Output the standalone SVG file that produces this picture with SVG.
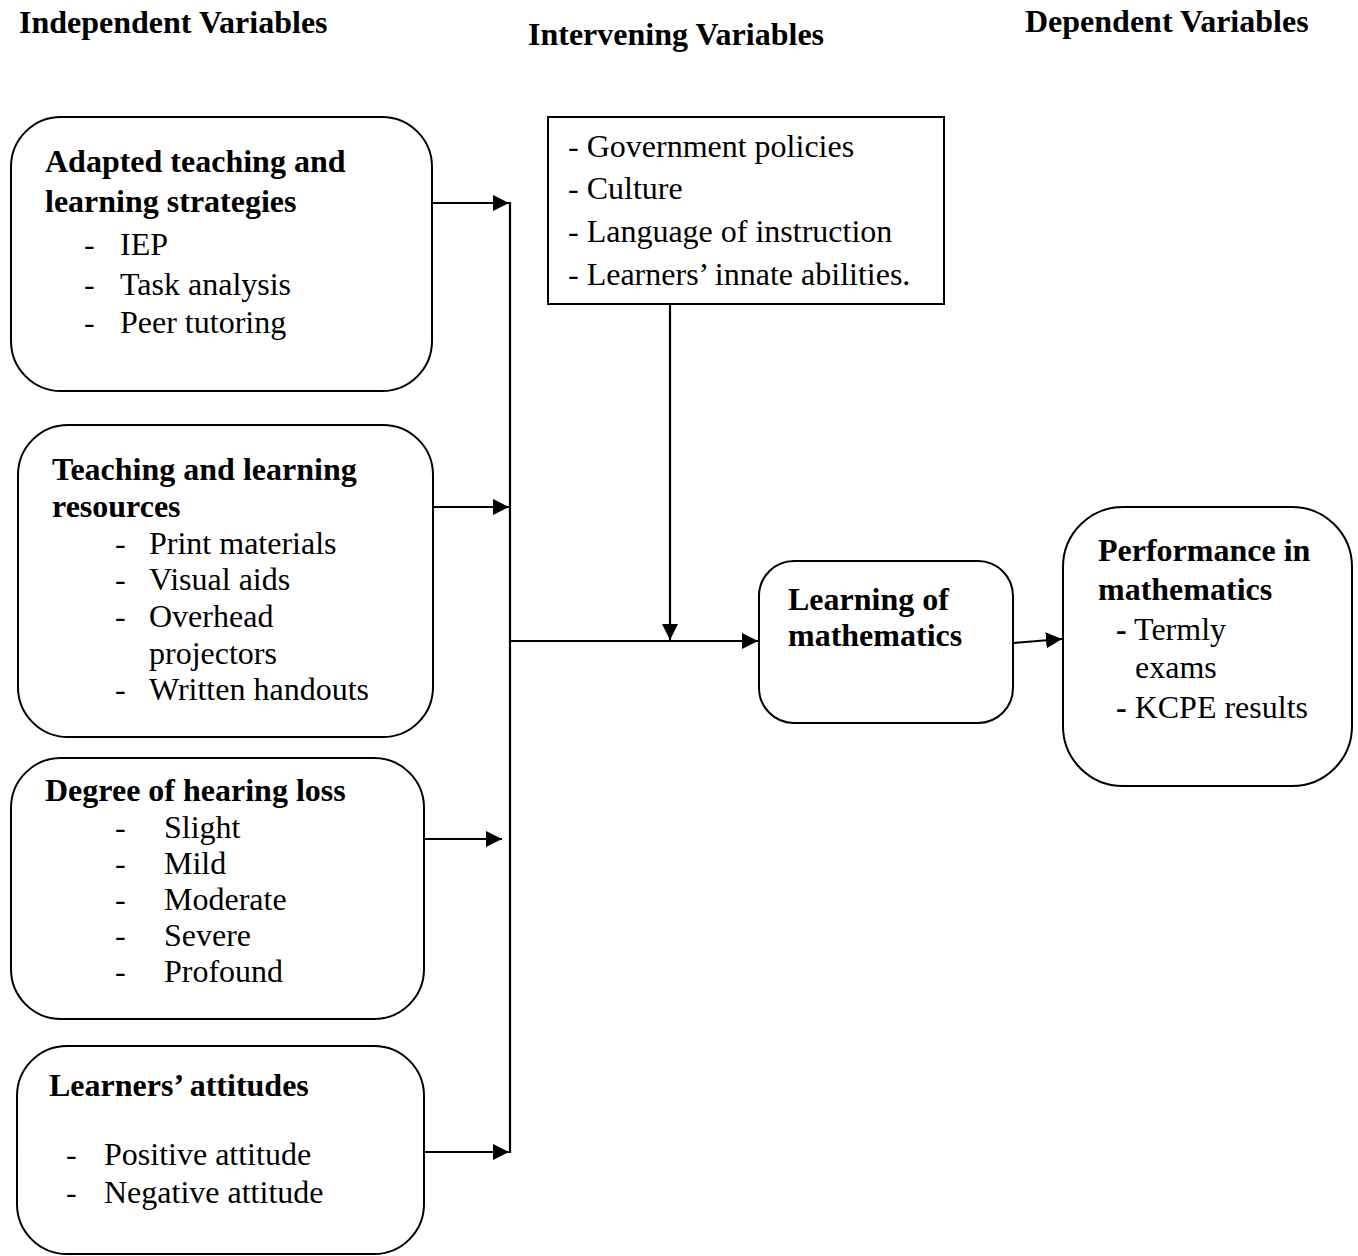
<svg xmlns="http://www.w3.org/2000/svg" width="1358" height="1256" viewBox="0 0 1358 1256">
<defs>
<style>
text{font-family:"Liberation Serif","Times New Roman",serif;font-size:32px;fill:#000}
.b{font-weight:bold}
.hd{font-weight:bold;font-size:32px}
.box{fill:#fff;stroke:#000;stroke-width:2}
.ln{fill:none;stroke:#000;stroke-width:2.2}
</style>
<marker id="ah" viewBox="0 0 16 16" refX="16" refY="8" markerWidth="16" markerHeight="16" markerUnits="userSpaceOnUse" orient="auto">
<path d="M0,0 L16,8 L0,16 Z" fill="#000"/>
</marker>
</defs>
<rect width="1358" height="1256" fill="#fff"/>
<g id="headers">
<text class="hd" x="19" y="33">Independent Variables</text>
<text class="hd" x="528" y="45">Intervening Variables</text>
<text class="hd" x="1025" y="32">Dependent Variables</text>
</g>
<g id="adapted">
<rect class="box" x="11" y="117" width="421" height="274" rx="50"/>
<text class="b" x="45" y="172">Adapted teaching and</text>
<text class="b" x="45" y="212">learning strategies</text>
<text x="84" y="255">-</text><text x="120" y="255">IEP</text>
<text x="84" y="295">-</text><text x="120" y="295">Task analysis</text>
<text x="84" y="333">-</text><text x="120" y="333">Peer tutoring</text>
</g>
<g id="resources">
<rect class="box" x="18" y="425" width="415" height="312" rx="50"/>
<text class="b" x="52" y="480">Teaching and learning</text>
<text class="b" x="52" y="517">resources</text>
<text x="115" y="554">-</text><text x="149" y="554">Print materials</text>
<text x="115" y="590">-</text><text x="149" y="590">Visual aids</text>
<text x="115" y="627">-</text><text x="149" y="627">Overhead</text>
<text x="149" y="664">projectors</text>
<text x="115" y="700">-</text><text x="149" y="700">Written handouts</text>
</g>
<g id="hearing">
<rect class="box" x="11" y="758" width="413" height="261" rx="50"/>
<text class="b" x="45" y="801">Degree of hearing loss</text>
<text x="115" y="838">-</text><text x="164" y="838">Slight</text>
<text x="115" y="874">-</text><text x="164" y="874">Mild</text>
<text x="115" y="910">-</text><text x="164" y="910">Moderate</text>
<text x="115" y="946">-</text><text x="164" y="946">Severe</text>
<text x="115" y="982">-</text><text x="164" y="982">Profound</text>
</g>
<g id="attitudes">
<rect class="box" x="17" y="1046" width="407" height="208" rx="50"/>
<text class="b" x="49" y="1096">Learners’ attitudes</text>
<text x="66" y="1165">-</text><text x="104" y="1165">Positive attitude</text>
<text x="66" y="1203">-</text><text x="104" y="1203">Negative attitude</text>
</g>
<g id="intervening">
<rect class="box" x="548" y="117" width="396" height="187"/>
<text x="568" y="157">- Government policies</text>
<text x="568" y="199">- Culture</text>
<text x="568" y="242">- Language of instruction</text>
<text x="568" y="285">- Learners’ innate abilities.</text>
</g>
<g id="learning">
<rect class="box" x="759" y="561" width="254" height="162" rx="35"/>
<text class="b" x="788" y="610">Learning of</text>
<text class="b" x="788" y="646">mathematics</text>
</g>
<g id="performance">
<rect class="box" x="1063" y="507" width="289" height="279" rx="60"/>
<text class="b" x="1098" y="561">Performance in</text>
<text class="b" x="1098" y="600">mathematics</text>
<text x="1116" y="640"><tspan class="b">-</tspan> Termly</text>
<text x="1135" y="678">exams</text>
<text x="1116" y="718"><tspan class="b">-</tspan> KCPE results</text>
</g>
<g id="connectors">
<line class="ln" x1="510" y1="202" x2="510" y2="1153"/>
<line class="ln" x1="432" y1="203" x2="509" y2="203" marker-end="url(#ah)"/>
<line class="ln" x1="433" y1="507" x2="509" y2="507" marker-end="url(#ah)"/>
<line class="ln" x1="424" y1="839" x2="502" y2="839" marker-end="url(#ah)"/>
<line class="ln" x1="424" y1="1152" x2="509" y2="1152" marker-end="url(#ah)"/>
<line class="ln" x1="670" y1="304" x2="670" y2="640" marker-end="url(#ah)"/>
<line class="ln" x1="510" y1="641" x2="758" y2="641" marker-end="url(#ah)"/>
<line class="ln" x1="1013" y1="643" x2="1062" y2="639" marker-end="url(#ah)"/>
</g>
</svg>
